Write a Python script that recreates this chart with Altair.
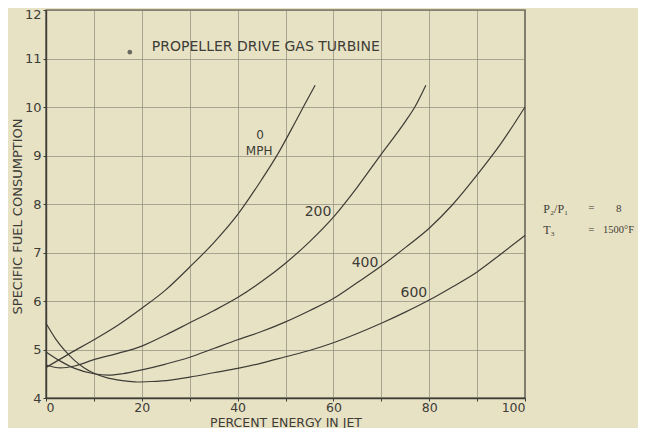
import altair as alt
import pandas as pd

# ---- curve data (percent energy in jet vs specific fuel consumption) ----
mph0_x = [0, 5, 10, 15, 20, 25, 30, 35, 40, 45, 48.5, 52, 54, 56.2]
mph0_y = [4.63, 4.92, 5.2, 5.5, 5.85, 6.23, 6.7, 7.2, 7.78, 8.5, 9.05, 9.68, 10.05, 10.45]

mph200_x = [0, 3, 6, 10, 15, 20, 25, 30, 35, 40, 45, 50, 55, 60, 65, 70, 75, 77, 79.3]
mph200_y = [4.68, 4.62, 4.66, 4.79, 4.92, 5.07, 5.3, 5.55, 5.8, 6.07, 6.4, 6.78, 7.22, 7.73, 8.35, 9.03, 9.7, 10.0, 10.45]

mph400_x = [0, 3, 6, 10, 13, 16, 20, 25, 30, 35, 40, 45, 50, 55, 60, 65, 70, 75, 80, 85, 90, 95, 100]
mph400_y = [4.95, 4.76, 4.61, 4.5, 4.47, 4.5, 4.58, 4.7, 4.84, 5.02, 5.2, 5.37, 5.57, 5.8, 6.05, 6.38, 6.72, 7.1, 7.5, 8.0, 8.6, 9.25, 10.0]

mph600_x = [0, 2, 4, 6, 8, 10, 13, 16, 19, 22, 26, 30, 35, 40, 45, 50, 55, 60, 65, 70, 75, 80, 85, 90, 95, 100]
mph600_y = [5.54, 5.22, 4.97, 4.77, 4.62, 4.51, 4.41, 4.36, 4.33, 4.34, 4.37, 4.43, 4.52, 4.61, 4.72, 4.85, 4.98, 5.14, 5.33, 5.54, 5.77, 6.02, 6.3, 6.6, 6.97, 7.35]

x_ticks = [0, 10, 20, 30, 40, 50, 60, 70, 80, 90, 100]
y_ticks = [4, 5, 6, 7, 8, 9, 10, 11, 12]

# curve labels
num_text = ["200", "400", "600"]
num_x = [56.8, 66.6, 76.8]
num_y = [7.83, 6.78, 6.17]
mph_text = ["0", "MPH"]
mph_x = [44.7, 44.5]
mph_y = [9.42, 9.1]

# chart title inside the plot
title_text = ["PROPELLER DRIVE GAS TURBINE"]
title_x = [22.1]
title_y = [11.24]
dot_x = [17.5]
dot_y = [11.13]

# side annotations
ann_text = ["P\u2082/P\u2081", "=", "8", "T\u2083", "=", "1500\u00b0F"]
ann_x = [103.8, 113.2, 119.0, 103.8, 113.2, 116.3]
ann_y = [7.9, 7.92, 7.9, 7.46, 7.46, 7.46]
ann_size = [12, 11, 11, 12, 11, 10.5]

INK = "#3d3c36"
GRID = "#8f8c7c"
BG = "#e8e2c5"

frames = []
for name, xs, ys in [("0", mph0_x, mph0_y), ("200", mph200_x, mph200_y),
                     ("400", mph400_x, mph400_y), ("600", mph600_x, mph600_y)]:
    frames.append(pd.DataFrame({"x": xs, "y": ys, "curve": name}))
curves = pd.concat(frames, ignore_index=True)

x_scale = alt.Scale(domain=[0, 100], nice=False, zero=False)
y_scale = alt.Scale(domain=[4, 12], nice=False, zero=False)

x_axis = alt.Axis(
    values=x_ticks,
    labelExpr="datum.value % 20 === 0 ? datum.label : ''",
    labelPadding=0,
    labelFontSize=12.5,
    title="PERCENT ENERGY IN JET",
    titleFontSize=12.5,
    titleY=28, titleBaseline="alphabetic",
)
y_axis = alt.Axis(
    values=y_ticks,
    labelOffset={"condition": {"test": "datum.value === 12", "value": 4}, "value": 0},
    labelFontSize=13,
    title="SPECIFIC FUEL CONSUMPTION",
    titleFontSize=13,
    titleX=-29, titleY=206, titleAngle=270, titleAlign="center", titleBaseline="middle",
)

lines = alt.Chart(curves).mark_line(
    interpolate="monotone", color=INK, strokeWidth=1.2
).encode(
    x=alt.X("x:Q", scale=x_scale, axis=x_axis),
    y=alt.Y("y:Q", scale=y_scale, axis=y_axis),
    detail="curve:N",
)

nums = alt.Chart(pd.DataFrame({"x": num_x, "y": num_y, "t": num_text})).mark_text(
    font="DejaVu Sans", fontSize=14, color=INK, align="center", baseline="middle"
).encode(x=alt.X("x:Q", scale=x_scale), y=alt.Y("y:Q", scale=y_scale), text="t:N")

mph = alt.Chart(pd.DataFrame({"x": mph_x, "y": mph_y, "t": mph_text})).mark_text(
    font="DejaVu Sans", fontSize=12, color=INK, align="center", baseline="middle"
).encode(x=alt.X("x:Q", scale=x_scale), y=alt.Y("y:Q", scale=y_scale), text="t:N")

title = alt.Chart(pd.DataFrame({"x": title_x, "y": title_y, "t": title_text})).mark_text(
    font="DejaVu Sans", fontSize=14, color=INK, align="left", baseline="middle"
).encode(x=alt.X("x:Q", scale=x_scale), y=alt.Y("y:Q", scale=y_scale), text="t:N")

dot = alt.Chart(pd.DataFrame({"x": dot_x, "y": dot_y})).mark_point(
    filled=True, color="#6b6a62", size=22, opacity=1
).encode(x=alt.X("x:Q", scale=x_scale), y=alt.Y("y:Q", scale=y_scale))

ann = alt.Chart(pd.DataFrame({"x": ann_x, "y": ann_y, "t": ann_text, "s": ann_size})).mark_text(
    font="Liberation Serif, DejaVu Serif", color=INK, align="left", baseline="middle"
).encode(
    x=alt.X("x:Q", scale=x_scale), y=alt.Y("y:Q", scale=y_scale), text="t:N",
    size=alt.Size("s:Q", scale=None, legend=None),
)

chart = alt.layer(lines, nums, mph, title, dot, ann).properties(
    width=479,
    height=388,
    autosize=alt.AutoSizeParams(type="none"),
    padding={"left": 38, "top": 2, "right": 113, "bottom": 30},
    background=BG,
).configure_view(
    stroke=INK, strokeWidth=1.4
).configure_axis(
    grid=True, gridColor=GRID, gridWidth=0.8, gridOpacity=0.9,
    domainColor=INK, domainWidth=1.4,
    tickColor=INK, tickSize=3, tickWidth=1,
    labelFont="DejaVu Sans", labelColor=INK, labelPadding=2,
    titleFont="DejaVu Sans", titleFontWeight="normal", titleColor=INK,
)

chart.save("out.html", embed_options={"renderer": "svg", "actions": False})
